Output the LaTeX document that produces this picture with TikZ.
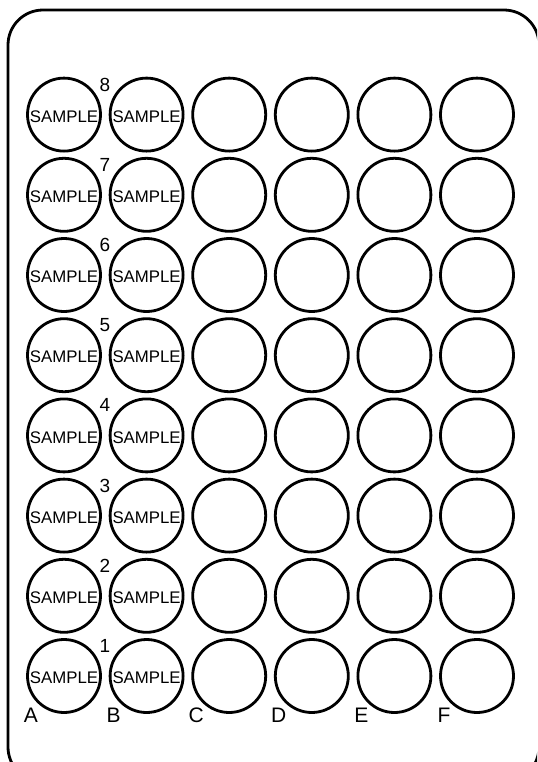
\documentclass[tikz,border=0pt]{standalone}
\usepackage{fontspec}
\setmainfont{Liberation Sans}
\usepackage{tikz}
\usetikzlibrary{positioning, calc}

\begin{document}
\begin{tikzpicture}[x=0.5pt, y=-0.5pt,
        well/.style={circle, draw, line width=1.4pt, minimum size=36.5pt, inner sep=0pt},
        tag/.style={font=\fontsize{9.5}{11}\selectfont, inner sep=0pt}]
    % Page frame, cut off on the right and at the bottom
    \useasboundingbox (0,0) rectangle (537,762);
    \clip (0,0) rectangle (537,762);
    \draw[line width=1.4pt, rounded corners=17.5pt] (8,10) rectangle (539,782);

    % Wells: columns A--F, rows 1--8
    \foreach \col [count=\i from 0] in {A,B,C,D,E,F}
        \foreach \row in {1,...,8}
            \node[well] (well\col\row) at ({64+82.6*\i},{676-80.2*(\row-1)}) {};

    % Sample text in columns A and B
    \foreach \col in {A,B}
        \foreach \row in {1,...,8}
            \node[font=\fontsize{8.4}{10}\selectfont, inner sep=0pt] (sample\col\row)
                at ($(well\col\row)+(0,2)$) {SAMPLE};

    % Row numbers between columns A and B
    \foreach \row in {1,...,8}
        \node[tag] (row\row) at ($(wellA\row)+(41,-30)$) {\row};

    % Column letters below row 1
    \foreach \col in {A,B,C,D,E,F}
        \node[tag, font=\fontsize{10.5}{12}\selectfont] (col\col) at ($(well\col1)+(-33,39)$) {\col};
\end{tikzpicture}
\end{document}
